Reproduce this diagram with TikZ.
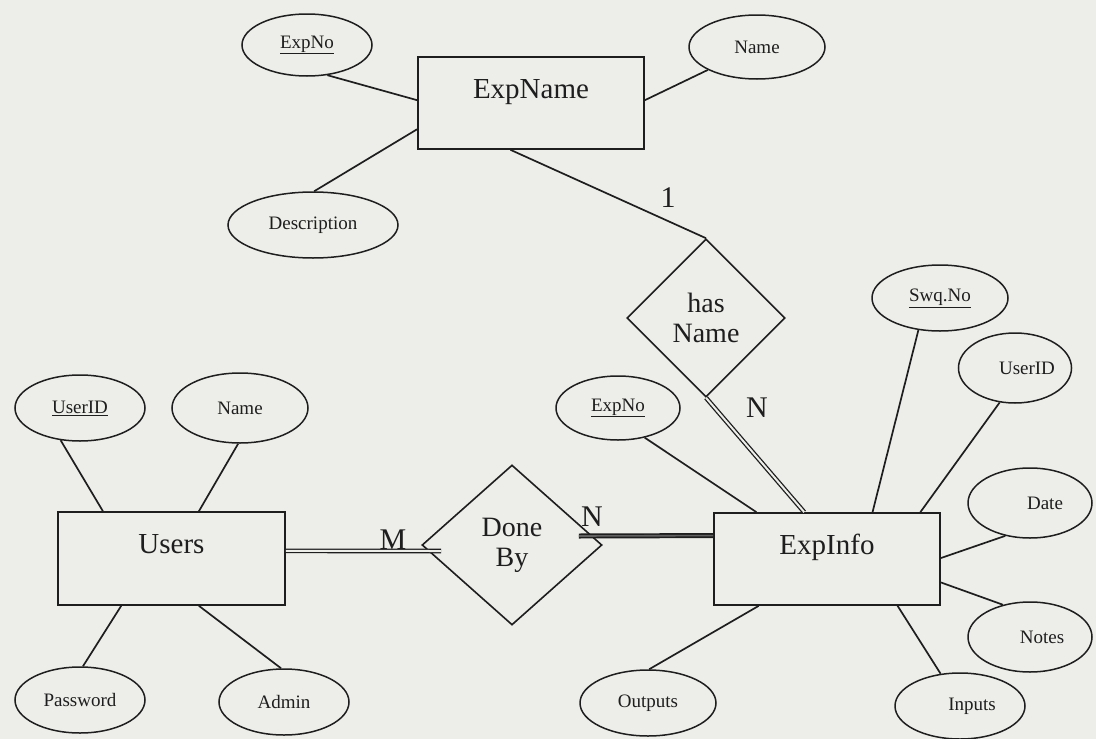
\documentclass[tikz,border=0pt]{standalone}
\usepackage{fontspec}
\setmainfont{Liberation Serif}
\usetikzlibrary{shapes.geometric,calc}
\definecolor{paper}{RGB}{237,237,233}
\definecolor{ink}{RGB}{30,30,30}
\begin{document}
\begin{tikzpicture}[x=1pt,y=-1pt,
  every node/.style={text=ink},
  attr/.style 2 args={ellipse,draw=ink,line width=1.5pt,fill=paper,inner sep=0pt,
    minimum width=#1pt,minimum height=#2pt,font=\fontsize{19}{21}\selectfont},
  entity/.style={rectangle,draw=ink,line width=1.7pt,fill=paper,inner sep=0pt,
    minimum width=226pt,minimum height=92pt,font=\fontsize{29}{31}\selectfont,
    text height=20pt,text depth=30pt},
  rel/.style={diamond,draw=ink,line width=1.6pt,fill=paper,inner sep=0pt,
    align=center,font=\fontsize{28}{30}\selectfont},
  link/.style={draw=ink,line width=1.7pt},
  dlink/.style={draw=ink,line width=1.3pt,double=paper,double distance=2pt},
  heavylink/.style={draw=ink,line width=1.7pt,double=ink!70,double distance=1.6pt},
  card/.style={font=\fontsize{30}{32}\selectfont,inner sep=0pt}
]
\fill[paper] (0,0) rectangle (1096,739);
\useasboundingbox (0,0) rectangle (1096,739);

% entities
\node[entity] (expname) at (531,103) {ExpName};
\node[entity,minimum width=227pt,minimum height=93pt] (users) at (171.5,558.5) {Users};
\node[entity] (expinfo) at (827,559) {ExpInfo};

% relationships
\node[rel,minimum width=158pt,minimum height=158pt] (hasname) at (706,318) {has\\Name};
\node[rel,minimum width=180pt,minimum height=160pt] (done) at (512,545) {Done\\By};

% attributes of ExpName
\node[attr={130}{62}] (xno) at (307,45) {\underline{ExpNo}};
\node[attr={136}{64}] (xname) at (757,47) {Name};
\node[attr={170}{66}] (desc) at (313,225) {Description};

% attributes of ExpInfo
\node[attr={124}{64}] (xno2) at (618,408) {\underline{ExpNo}};
\node[attr={136}{66}] (swq) at (940,298) {\underline{Swq.No}};
\node[attr={110}{70}] (uid2) at (1015,368) {\hspace*{24pt}UserID};
\node[attr={124}{70}] (date) at (1030,503) {\hspace*{30pt}Date};
\node[attr={124}{70}] (notes) at (1030,637) {\hspace*{24pt}Notes};
\node[attr={130}{66}] (inputs) at (960,706) {\hspace*{24pt}Inputs};
\node[attr={136}{66}] (outputs) at (648,703) {Outputs};

% attributes of Users
\node[attr={130}{66}] (uid1) at (80,408) {\underline{UserID}};
\node[attr={136}{70}] (uname) at (240,408) {Name};
\node[attr={130}{66}] (pwd) at (80,700) {Password};
\node[attr={130}{66}] (admin) at (284,702) {Admin};

% attribute links
\draw[link] (xno.-56) -- ($(expname.north west)!0.47!(expname.south west)$);
\draw[link] (xname.-155) -- ($(expname.north east)!0.47!(expname.south east)$);
\draw[link] (desc.88) -- ($(expname.north west)!0.78!(expname.south west)$);
\draw[link] (xno2.-48) -- ($(expinfo.north west)!0.19!(expinfo.north east)$);
\draw[link] (swq.-124) -- ($(expinfo.north west)!0.70!(expinfo.north east)$);
\draw[link] (uid2.-114) -- ($(expinfo.north west)!0.91!(expinfo.north east)$);
\draw[link] (date.-127) -- ($(expinfo.north east)!0.49!(expinfo.south east)$);
\draw[link] (notes.130) -- ($(expinfo.north east)!0.75!(expinfo.south east)$);
\draw[link] (inputs.121) -- ($(expinfo.south west)!0.81!(expinfo.south east)$);
\draw[link] (outputs.88) -- ($(expinfo.south west)!0.20!(expinfo.south east)$);
\draw[link] (uid1.-121) -- ($(users.north west)!0.2!(users.north east)$);
\draw[link] (uname.-93) -- ($(users.north west)!0.62!(users.north east)$);
\draw[link] (pwd.85) -- ($(users.south west)!0.28!(users.south east)$);
\draw[link] (admin.95) -- ($(users.south west)!0.62!(users.south east)$);

% relationship links
\draw[link] ($(expname.south west)!0.41!(expname.south east)$) -- (hasname.north);
\draw[dlink] (hasname.south) -- ($(expinfo.north west)!0.40!(expinfo.north east)$);
\coordinate (mEnd) at ($(done.west)+(20,6)$);
\coordinate (nStart) at ($(done.east)+(-24,-9)$);
\draw[dlink] ($(users.north east)!0.42!(users.south east)$) -- (mEnd);
\draw[heavylink] (nStart) -- ($(expinfo.north west)!0.25!(expinfo.south west)$);

% cardinalities
\node[card] (lm) at (393,540) {M};
\node[card] (ln1) at (592,517) {N};
\node[card] (l1) at (668,198) {1};
\node[card] (ln2) at (757,408) {N};
\end{tikzpicture}
\end{document}
